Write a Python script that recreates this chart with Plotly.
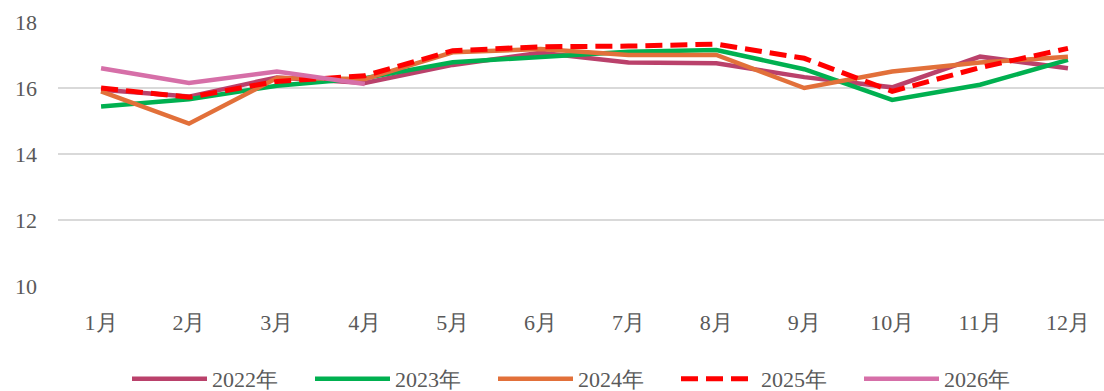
import plotly.graph_objects as go

months = ["1月", "2月", "3月", "4月", "5月", "6月", "7月", "8月", "9月", "10月", "11月", "12月"]
y2022 = [15.95, 15.74, 16.32, 16.15, 16.70, 17.07, 16.77, 16.75, 16.33, 16.02, 16.95, 16.60]
y2023 = [15.44, 15.66, 16.07, 16.30, 16.78, 16.95, 17.10, 17.15, 16.57, 15.64, 16.10, 16.85]
y2024 = [15.90, 14.92, 16.30, 16.27, 17.08, 17.18, 17.00, 17.00, 16.00, 16.50, 16.77, 16.95]
y2025 = [16.00, 15.72, 16.20, 16.37, 17.13, 17.25, 17.27, 17.33, 16.90, 15.90, 16.62, 17.20]
y2026 = [16.60, 16.15, 16.50, 16.12]
y_ticks = [10, 12, 14, 16, 18]

series = [
    ("2022年", y2022, "#BA416B", "solid", 4.5),
    ("2023年", y2023, "#00B050", "solid", 4.5),
    ("2024年", y2024, "#E2703A", "solid", 4.5),
    ("2025年", y2025, "#FF0000", "17px,8px", 5),
    ("2026年", y2026, "#D66FA8", "solid", 4.5),
]

fig = go.Figure()
for name, vals, color, dash, w in series:
    fig.add_trace(go.Scatter(
        x=months[:len(vals)], y=vals, name=name, mode="lines",
        line=dict(color=color, width=w, dash=dash),
    ))

font_family = "Times New Roman"
fig.update_layout(
    width=1104, height=391,
    margin=dict(l=58, r=0, t=22, b=105),
    plot_bgcolor="white", paper_bgcolor="white",
    font=dict(family=font_family, size=22, color="#595959"),
    showlegend=True,
    legend=dict(
        orientation="h", xref="container", yref="container",
        x=127 / 1104, xanchor="left", y=1 - 379 / 391, yanchor="middle",
        entrywidth=93, entrywidthmode="pixels", itemwidth=75,
        font=dict(family=font_family, size=22, color="#595959"),
        bgcolor="rgba(0,0,0,0)",
    ),
    xaxis=dict(
        type="category", categoryorder="array", categoryarray=months,
        range=[-0.49, 11.41], showgrid=False, zeroline=False,
        showline=False, ticks="", ticklabelstandoff=21,
        tickfont=dict(family=font_family, size=22, color="#595959"),
    ),
    yaxis=dict(
        range=[10, 18], tickvals=y_ticks, showgrid=True,
        gridcolor="#D9D9D9", gridwidth=1.5, zeroline=False,
        showline=False, ticks="", ticklabelstandoff=20,
        tickfont=dict(family=font_family, size=22, color="#595959"),
    ),
)

fig.write_html("out.html")
